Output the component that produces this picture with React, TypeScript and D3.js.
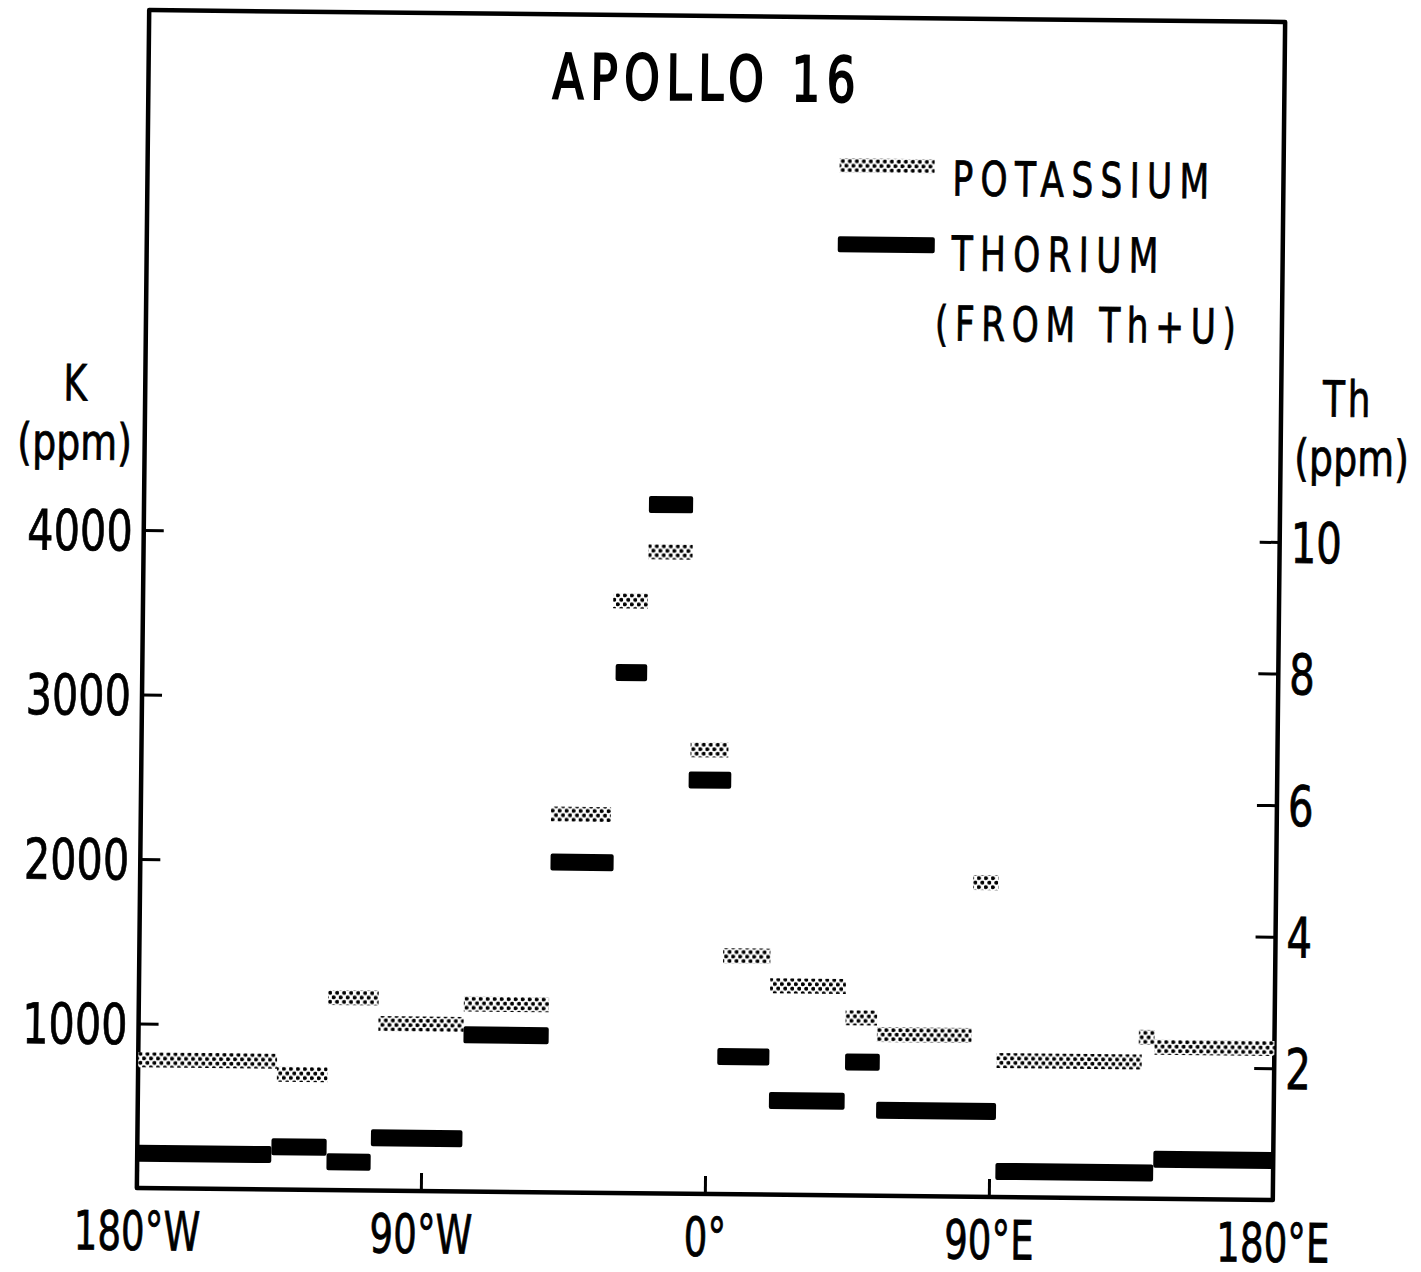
import React, { useEffect, useRef } from 'react';
import * as d3 from 'd3';

// potassium segments (longitude from/to, K in ppm)
const kStart = [-180, -136, -120, -104, -77, -50, -31, -20, -6, 5, 20, 44, 54, 84, 92, 137, 142];
const kEnd = [-136, -120, -104, -77, -50, -31, -20, -6, 6, 20, 44, 54, 84, 92, 138, 142, 180];
const kValue = [780, 700, 1170, 1015, 1140, 2300, 3600, 3900, 2700, 1450, 1270, 1080, 980, 1910, 830, 980, 920];

// thorium segments (longitude from/to, Th in ppm)
const thStart = [-180, -137.5, -120, -106, -77, -50, -30, -20, -6.5, 3.5, 20, 44, 54, 92, 142];
const thEnd = [-137.5, -120, -106, -77, -50, -30, -20, -6, 7, 20, 44, 55, 92, 142, 180];
const thValue = [0.53, 0.65, 0.43, 0.8, 2.38, 5.02, 7.91, 10.47, 6.29, 2.09, 1.43, 2.03, 1.3, 0.39, 0.6];

const kTicks = [1000, 2000, 3000, 4000];
const thTicks = [2, 4, 6, 8, 10];
const lonTicks = [-180, -90, 0, 90, 180];
const lonLabels = ['180°W', '90°W', '0°', '90°E', '180°E'];

const width = 1421;
const height = 1272;
const frame = { left: 143, right: 1279, top: 16, bottom: 1194 };
const font = "'DejaVu Sans', 'Liberation Sans', sans-serif";

const x = d3.scaleLinear().domain([-180, 180]).range([frame.left, frame.right]);
const yK = d3.scaleLinear().domain([0, 4000]).range([frame.bottom, 536]);
const yTh = d3.scaleLinear().domain([0, 10]).range([frame.bottom, 536]);

const kSegs = kValue.map((v, i) => ({ start: kStart[i], end: kEnd[i], value: v }));
const thSegs = thValue.map((v, i) => ({ start: thStart[i], end: thEnd[i], value: v }));

// condensed lettering: scale glyphs horizontally
const label = (g: any, txt: string, tx: number, ty: number, o: any = {}) =>
  g.append('text')
    .attr('transform', `translate(${tx},${ty}) scale(${o.sx ?? 0.72},1)`)
    .attr('text-anchor', o.anchor ?? 'start')
    .attr('font-size', o.size ?? 48)
    .attr('letter-spacing', o.ls ?? 0)
    .attr('font-family', font)
    .attr('fill', '#000')
    .attr('stroke', '#000')
    .attr('stroke-width', o.sw ?? 0.8)
    .text(txt);

function App() {
  const ref = useRef<SVGSVGElement>(null);

  useEffect(() => {
    const svg = d3.select(ref.current);
    svg.selectAll('*').remove();

    // dotted screen for potassium
    const pat = svg.append('defs').append('pattern')
      .attr('id', 'kpat')
      .attr('patternUnits', 'userSpaceOnUse')
      .attr('width', 7)
      .attr('height', 9);
    pat.append('rect').attr('width', 7).attr('height', 9).attr('fill', '#fff');
    pat.append('circle').attr('cx', 1.75).attr('cy', 2.25).attr('r', 2.1).attr('fill', '#000');
    pat.append('circle').attr('cx', 5.25).attr('cy', 6.75).attr('r', 2.1).attr('fill', '#000');

    // the scan is tilted a little
    const g = svg.append('g').attr('transform', 'rotate(0.6,710,605)');

    g.append('rect')
      .attr('x', frame.left)
      .attr('y', frame.top)
      .attr('width', frame.right - frame.left)
      .attr('height', frame.bottom - frame.top)
      .attr('fill', 'none')
      .attr('stroke', '#000')
      .attr('stroke-width', 4.5)
      .attr('stroke-linejoin', 'round');

    // left axis K
    const left = g.append('g')
      .attr('transform', `translate(${frame.left},0)`)
      .call(d3.axisLeft(yK).tickValues(kTicks).tickSize(-20).tickFormat(d3.format('d')));
    left.select('.domain').remove();
    left.selectAll('line').attr('stroke-width', 3);
    left.selectAll('text')
      .attr('x', null).attr('dy', '0.36em')
      .attr('transform', 'translate(-11,0) scale(0.74,1)')
      .attr('font-size', 56).attr('font-family', font)
      .attr('stroke', '#000').attr('stroke-width', 0.8);

    // right axis Th
    const right = g.append('g')
      .attr('transform', `translate(${frame.right},0)`)
      .call(d3.axisRight(yTh).tickValues(thTicks).tickSize(-20));
    right.select('.domain').remove();
    right.selectAll('line').attr('stroke-width', 3);
    right.selectAll('text')
      .attr('x', null).attr('dy', '0.36em')
      .attr('transform', 'translate(11,0) scale(0.72,1)')
      .attr('font-size', 56).attr('font-family', font)
      .attr('stroke', '#000').attr('stroke-width', 0.8);

    // bottom axis longitude
    const bottom = g.append('g')
      .attr('transform', `translate(0,${frame.bottom})`)
      .call(d3.axisBottom(x).tickValues(lonTicks).tickSize(-18).tickFormat((d: any, i: number) => lonLabels[i]));
    bottom.select('.domain').remove();
    bottom.selectAll('line').attr('stroke-width', 3);
    bottom.selectAll('text')
      .attr('y', null).attr('dy', null)
      .attr('transform', 'translate(0,62) scale(0.69,1)')
      .attr('font-size', 54).attr('font-family', font)
      .attr('stroke', '#000').attr('stroke-width', 0.8);

    // potassium bars
    g.append('g').selectAll('rect')
      .data(kSegs)
      .join('rect')
      .attr('x', d => x(d.start))
      .attr('width', d => x(d.end) - x(d.start))
      .attr('y', d => yK(d.value) - 7.5)
      .attr('height', 15)
      .attr('fill', 'url(#kpat)');

    // thorium bars
    g.append('g').selectAll('rect')
      .data(thSegs)
      .join('rect')
      .attr('x', d => x(d.start))
      .attr('width', d => x(d.end) - x(d.start))
      .attr('y', d => yTh(d.value) - 8.5)
      .attr('height', 17)
      .attr('rx', 2)
      .attr('fill', '#000');

    // title
    label(g, 'APOLLO 16', 702, 100, { size: 62, anchor: 'middle', ls: 9, sx: 0.73, sw: 2.2 });

    // legend
    g.append('rect').attr('x', 835).attr('y', 157).attr('width', 95).attr('height', 14).attr('fill', 'url(#kpat)');
    g.append('rect').attr('x', 834).attr('y', 235).attr('width', 97).attr('height', 16).attr('rx', 2).attr('fill', '#000');
    label(g, 'POTASSIUM', 948, 193, { ls: 10 });
    label(g, 'THORIUM', 948, 268, { ls: 10 });
    label(g, '(FROM Th+U)', 932, 338, { ls: 9 });

    // axis titles
    label(g, 'K', 73, 407, { size: 50, anchor: 'middle' });
    label(g, '(ppm)', 73, 466, { size: 50, anchor: 'middle', sx: 0.76 });
    label(g, 'Th', 1346, 410, { size: 50, anchor: 'middle', ls: 4 });
    label(g, '(ppm)', 1350, 469, { size: 50, anchor: 'middle', sx: 0.76 });
  }, []);

  return (
    <svg
      ref={ref}
      width={width}
      height={height}
      viewBox={`0 0 ${width} ${height}`}
      style={{ position: 'absolute', left: 0, top: 0, background: '#fff' }}
    />
  );
}

export default App;
